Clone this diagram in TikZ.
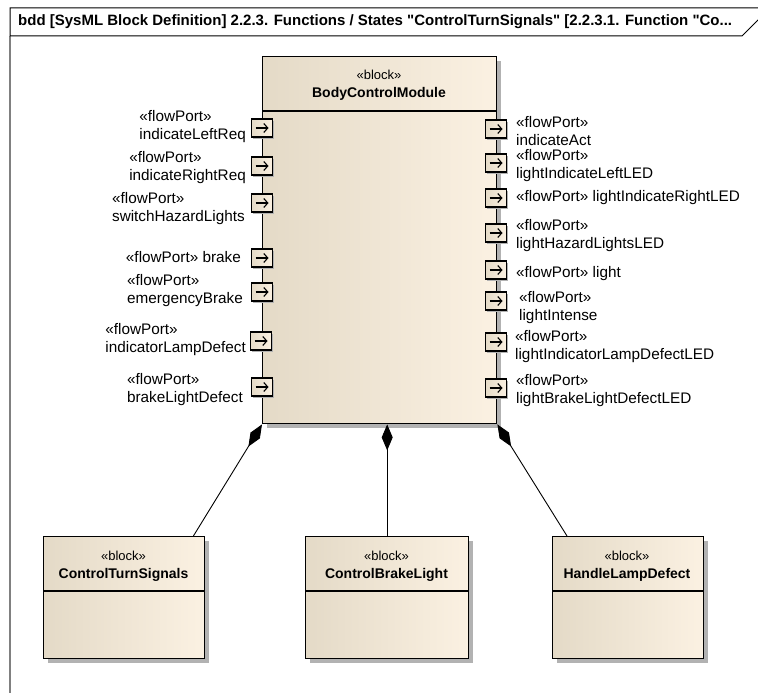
\documentclass[tikz,border=0pt]{standalone}
\usepackage{fontspec}
\setmainfont{Liberation Sans}[Ligatures=TeXOff]
\usetikzlibrary{arrows.meta,shadows}
\definecolor{blkleft}{RGB}{228,218,199}
\definecolor{blkright}{RGB}{251,241,226}
\definecolor{framegray}{RGB}{128,128,128}

\tikzset{
  blockbox/.style={draw=black, line width=1.4pt, left color=blkleft, right color=blkright,
    inner sep=0pt, anchor=north west,
    drop shadow={shadow xshift=4pt, shadow yshift=-4pt, fill=black!30, opacity=1}},
  portbox/.style={draw=black, line width=1.1pt, left color=blkleft, right color=blkright,
    minimum width=21pt, minimum height=18pt, inner sep=0pt,
    drop shadow={shadow xshift=1.5pt, shadow yshift=-1.5pt, fill=black!30, opacity=1},
    path picture={\draw[line width=1.1pt, -{Straight Barb[length=4pt,width=9pt]}]
      ([xshift=-6.5pt]path picture bounding box.center) -- ([xshift=6.5pt]path picture bounding box.center);}},
  portlbl/.style={font=\fontsize{15.3}{18}\selectfont, align=left, inner sep=0pt},
  stereo/.style={font=\fontsize{13}{13}\selectfont, inner sep=0pt},
  blkname/.style={font=\bfseries\fontsize{14}{14}\selectfont, inner sep=0pt},
  compose/.style={line width=0.9pt, {Diamond[length=26pt,width=11pt]}-},
}

\begin{document}
\begin{tikzpicture}[x=1pt, y=-1pt]
        \useasboundingbox (0,0) rectangle (758,693);
        \fill[white] (0,0) rectangle (758,693);
        \clip (0,0) rectangle (758,693);

        % frame
        \draw[framegray, line width=1.2pt] (10,36) -- (10,693);
        \draw[black, line width=1pt] (10,36) -- (10,8) -- (770,8) -- (742,36) -- cycle;
        \node[anchor=west, inner sep=0pt, font=\bfseries\fontsize{15}{15}\selectfont] (title) at (18,22)
          {bdd [SysML Block Definition] 2.2.3. Functions / States "ControlTurnSignals" [2.2.3.1. Function "Co...};

        % blocks
        \node[blockbox, minimum width=234pt, minimum height=367pt] (bcm) at (262,56) {};
        \node[blockbox, minimum width=161pt, minimum height=122pt] (cts) at (43,536) {};
        \node[blockbox, minimum width=163pt, minimum height=122pt] (cbl) at (305,536) {};
        \node[blockbox, minimum width=151pt, minimum height=122pt] (hld) at (552,536) {};

        \draw[line width=1.4pt] ([yshift=-55pt]bcm.north west) -- ([yshift=-55pt]bcm.north east);
        \draw[line width=1.4pt] ([yshift=-55pt]cts.north west) -- ([yshift=-55pt]cts.north east);
        \draw[line width=1.4pt] ([yshift=-55pt]cbl.north west) -- ([yshift=-55pt]cbl.north east);
        \draw[line width=1.4pt] ([yshift=-55pt]hld.north west) -- ([yshift=-55pt]hld.north east);

        \node[stereo] (bcmst) at (379,75) {«block»};
        \node[blkname] (bcmnm) at (379,94) {BodyControlModule};
        \node[stereo] (ctsst) at (123.5,556) {«block»};
        \node[blkname] (ctsnm) at (123.5,575) {ControlTurnSignals};
        \node[stereo] (cblst) at (386.5,556) {«block»};
        \node[blkname] (cblnm) at (386.5,575) {ControlBrakeLight};
        \node[stereo] (hldst) at (627,556) {«block»};
        \node[blkname] (hldnm) at (627,575) {HandleLampDefect};

        % ports in
        \node[portbox] (pLeftReq) at (262,128) {};
        \node[portbox] (pRightReq) at (262,166) {};
        \node[portbox] (pHazard) at (262,203) {};
        \node[portbox] (pBrake) at (262,258) {};
        \node[portbox] (pEmBrake) at (262,292) {};
        \node[portbox] (pLampDef) at (261,341) {};
        \node[portbox] (pBrakeDef) at (262,387) {};

        \node[portlbl, anchor=east] (lLeftReq) at (246,127) {«flowPort»\\indicateLeftReq};
        \node[portlbl, anchor=east] (lRightReq) at (246,168) {«flowPort»\\indicateRightReq};
        \node[portlbl, anchor=east] (lHazard) at (245,209) {«flowPort»\\switchHazardLights};
        \node[portlbl, anchor=east] (lBrake) at (241,257) {«flowPort» brake};
        \node[portlbl, anchor=east] (lEmBrake) at (243,291) {«flowPort»\\emergencyBrake};
        \node[portlbl, anchor=east] (lLampDef) at (246,340) {«flowPort»\\indicatorLampDefect};
        \node[portlbl, anchor=east] (lBrakeDef) at (243,390) {«flowPort»\\brakeLightDefect};

        % ports out
        \node[portbox] (pAct) at (496,129) {};
        \node[portbox] (pLeftLED) at (496,163) {};
        \node[portbox] (pRightLED) at (496,198) {};
        \node[portbox] (pHazardLED) at (496,233) {};
        \node[portbox] (pLight) at (496,270) {};
        \node[portbox] (pIntense) at (496,301) {};
        \node[portbox] (pLampLED) at (496,342) {};
        \node[portbox] (pBrakeLED) at (496,388) {};

        \node[portlbl, anchor=west] (lAct) at (516,131) {«flowPort»\\indicateAct};
        \node[portlbl, anchor=west] (lLeftLED) at (516,166) {«flowPort»\\lightIndicateLeftLED};
        \node[portlbl, anchor=west] (lRightLED) at (516,198) {«flowPort» lightIndicateRightLED};
        \node[portlbl, anchor=west] (lHazardLED) at (516,236) {«flowPort»\\lightHazardLightsLED};
        \node[portlbl, anchor=west] (lLight) at (516,274) {«flowPort» light};
        \node[portlbl, anchor=west] (lIntense) at (519,308) {«flowPort»\\lightIntense};
        \node[portlbl, anchor=west] (lLampLED) at (515,347) {«flowPort»\\lightIndicatorLampDefectLED};
        \node[portlbl, anchor=west] (lBrakeLED) at (516,391) {«flowPort»\\lightBrakeLightDefectLED};

        % composition
        \draw[compose] (bcm.south west) -- ([xshift=-12pt]cts.north east);
        \draw[compose] (cbl.north |- bcm.south) -- (cbl.north);
        \draw[compose] (bcm.south east) -- ([xshift=15pt]hld.north west);
\end{tikzpicture}
\end{document}
